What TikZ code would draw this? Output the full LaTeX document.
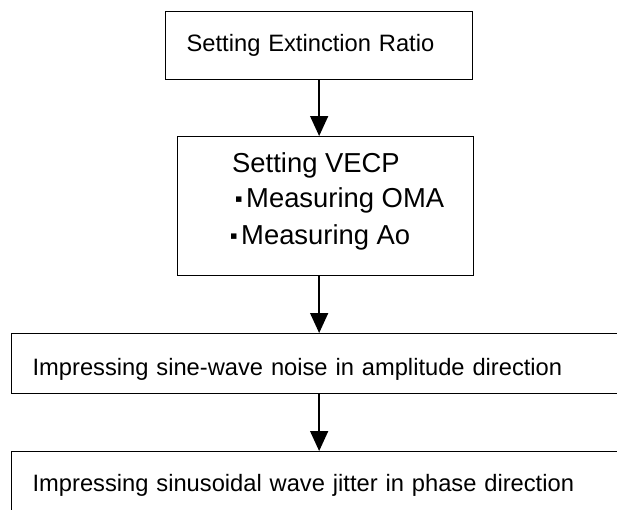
\documentclass[tikz,border=0pt]{standalone}
\usepackage{fontspec}
\setmainfont{Liberation Sans}
\newfontfamily\dejavu{DejaVu Sans}
\usetikzlibrary{arrows.meta}
\begin{document}
\begin{tikzpicture}[x=1pt,y=-1pt,
  box/.style={draw=black, line width=1.3pt, rectangle, anchor=north west,
    inner ysep=0pt, inner xsep=21pt, align=left,
    font=\fontsize{23.7}{28}\selectfont},
  plainbox/.style={draw=black, line width=1.3pt, rectangle, anchor=north west, inner sep=0pt},
  lbl/.style={inner sep=0pt, anchor=base west, font=\fontsize{27.4}{32}\selectfont},
  arr/.style={line width=1.5pt, -{Triangle[width=18pt,length=20pt]}}]
\useasboundingbox (0,0) rectangle (617,509);
\clip (0,0) rectangle (617,509);
\node[box, text width=265pt, minimum height=68pt] (b1) at (165,11) {Setting Extinction Ratio};
\node[plainbox, minimum width=296pt, minimum height=139pt] (b2) at (177,136) {};
\node[lbl] (t1) at (232,172) {Setting VECP};
\node[lbl] (t2) at (235,207) {\makebox[11pt][l]{\raisebox{5pt}{\dejavu\fontsize{11}{11}\selectfont ▪}}Measuring OMA};
\node[lbl] (t3) at (230,244) {\makebox[11pt][l]{\raisebox{5pt}{\dejavu\fontsize{11}{11}\selectfont ▪}}Measuring Ao};
\node[box, text width=597pt, minimum height=60pt, text height=27pt, text depth=3pt] (b3) at (11,333) {Impressing sine-wave noise in amplitude direction};
\node[box, text width=597pt, minimum height=68pt] (b4) at (11,451) {Impressing sinusoidal wave jitter in phase direction};
\draw[arr] (b1.south) -- (b1.south |- b2.north);
\draw[arr] (b1.south |- b2.south) -- (b1.south |- b3.north);
\draw[arr] (b1.south |- b3.south) -- (b1.south |- b4.north);
\end{tikzpicture}
\end{document}
